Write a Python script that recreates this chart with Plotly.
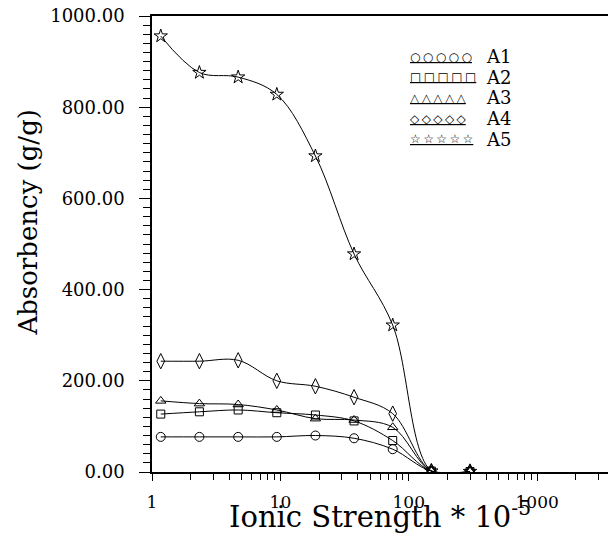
import plotly.graph_objects as go

# Data
ionic_strength = [1.17, 2.34, 4.69, 9.38, 18.75, 37.5, 75, 150, 300]
series_names = ["A1", "A2", "A3", "A4", "A5"]
a1 = [77, 77, 77, 77, 80, 74, 50, 2, 1]
a2 = [127, 132, 136, 130, 125, 112, 69, 2, 1]
a3 = [156, 150, 148, 136, 117, 114, 98, 2, 1]
a4 = [243, 243, 245, 200, 188, 164, 128, 2, 1]
a5 = [956, 876, 866, 828, 693, 478, 322, 2, 1]
y_tick_values = [0, 200, 400, 600, 800, 1000]
x_tick_values = [1, 10, 100, 1000]
x_tick_labels = ["1", "10", "100", "1000"]

series = [a1, a2, a3, a4, a5]
symbols = ["circle-open", "square-open", "triangle-up-open", "diamond-tall-open", "star-open"]
sizes = [9, 8, 9, 11, 10]
legend_glyphs = ["\u25cb", "\u25a1", "\u25b3", "\u25c7", "\u2606"]

fig = go.Figure()
for name, vals, sym, sz in zip(series_names, series, symbols, sizes):
    fig.add_trace(go.Scatter(
        x=ionic_strength, y=vals, name=name, mode="lines+markers",
        line=dict(color="black", width=1, shape="spline", smoothing=1.0),
        marker=dict(symbol=sym, size=sz, color="black", line=dict(width=1, color="black")),
        showlegend=False,
    ))

# hand-made legend in the style of the reference
for i, (name, g) in enumerate(zip(series_names, legend_glyphs)):
    ypos = 0.911 - i * 0.0453
    fig.add_annotation(xref="paper", yref="paper", x=0.555, y=ypos, xanchor="left", yanchor="middle",
                       text="<u>" + "\u2009".join([g] * 5) + "</u>", showarrow=False,
                       font=dict(family="DejaVu Sans", size=12, color="black"))
    fig.add_annotation(xref="paper", yref="paper", x=0.72, y=ypos, xanchor="left", yanchor="middle",
                       text=name, showarrow=False,
                       font=dict(family="DejaVu Serif", size=18, color="black"))

# axis titles
fig.add_annotation(xref="paper", yref="paper", x=-0.27, y=0.546, xanchor="center", yanchor="middle",
                   text="Absorbency (g/g)", textangle=-90, showarrow=False,
                   font=dict(family="DejaVu Serif", size=26, color="black"))
fig.add_annotation(xref="paper", yref="paper", x=0.495, y=-0.094, xanchor="center", yanchor="middle",
                   text="Ionic Strength * 10<sup>-5</sup>", showarrow=False,
                   font=dict(family="DejaVu Serif", size=29, color="black"))

minor_x = [m * 10 ** k for k in range(4) for m in range(2, 10) if m * 10 ** k < 3900]

fig.update_layout(
    width=608, height=527,
    margin=dict(l=143.5, r=3, t=7.6, b=63, autoexpand=False),
    paper_bgcolor="white", plot_bgcolor="white",
    font=dict(family="DejaVu Serif", color="black"),
    xaxis=dict(
        type="log", range=[0, 3.591], automargin=False,
        tickvals=x_tick_values, ticktext=x_tick_labels,
        ticks="outside", ticklen=7, tickwidth=1, tickcolor="black",
        minor=dict(tickvals=minor_x, ticks="outside", ticklen=6, tickcolor="black", tickwidth=1),
        showline=True, linecolor="black", linewidth=1.5, mirror=True,
        showgrid=False, zeroline=False,
        tickfont=dict(family="DejaVu Serif", size=17),
        ticklabelstandoff=7, ticklabeloverflow="allow",
    ),
    yaxis=dict(
        range=[0, 1000], tickvals=y_tick_values, tickformat=".2f", automargin=False,
        ticks="outside", ticklen=11, tickwidth=1, tickcolor="black",
        minor=dict(dtick=20, ticks="outside", ticklen=7, tickcolor="black", tickwidth=1),
        showline=True, linecolor="black", linewidth=1.5, mirror=True,
        showgrid=False, zeroline=False,
        tickfont=dict(family="DejaVu Serif", size=18),
        ticklabelstandoff=11, ticklabeloverflow="allow",
    ),
)

fig.write_html("out.html")
